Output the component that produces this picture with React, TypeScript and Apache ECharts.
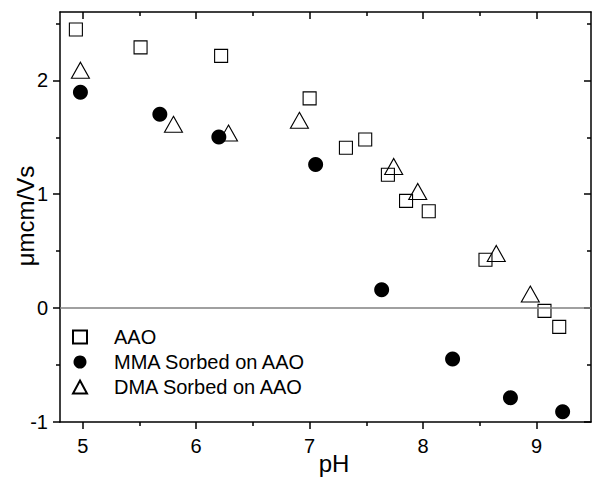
import React, { useEffect, useRef } from "react";
import * as echarts from "echarts";

const FONT = "'Liberation Sans', Arial, Helvetica, sans-serif";

const xMajorTicks = [5, 6, 7, 8, 9];
const xMinorTicks = [5.5, 6.5, 7.5, 8.5];
const yMajorTicks = [-1, 0, 1, 2];
const yMinorTicks = [-0.5, 0.5, 1.5, 2.5];

const X_MIN = 4.8;
const X_MAX = 9.48;
const Y_MIN = -1;
const Y_MAX = 2.6;

const seriesNames = ["AAO", "MMA Sorbed on AAO", "DMA Sorbed on AAO"];

const aaoPH = [4.94, 5.51, 6.22, 7.0, 7.32, 7.49, 7.69, 7.85, 8.05, 8.55, 9.07, 9.2];
const aaoMob = [2.447, 2.289, 2.215, 1.842, 1.408, 1.48, 1.171, 0.942, 0.85, 0.425, -0.024, -0.165];

const mmaPH = [4.98, 5.68, 6.2, 7.053, 7.635, 8.26, 8.77, 9.23];
const mmaMob = [1.895, 1.702, 1.502, 1.261, 0.161, -0.446, -0.787, -0.91];

const dmaPH = [4.98, 5.8, 6.285, 6.91, 7.741, 7.953, 8.645, 8.945];
const dmaMob = [2.089, 1.614, 1.537, 1.649, 1.244, 1.024, 0.48, 0.123];

const zip = (a: number[], b: number[]) => a.map((v, i) => [v, b[i]]);

export default function App() {
  const ref = useRef<HTMLDivElement>(null);
  useEffect(() => {
    document.body.style.margin = "0";
    if (!ref.current) return;
    const chart = echarts.init(ref.current, undefined, { renderer: "svg" });
    const axisLine = { show: true, onZero: false, lineStyle: { color: "#000", width: 1.5 } };
    const tickStyle = { color: "#000", width: 1.5 };
    const xBase = { type: "value", min: X_MIN, max: X_MAX, splitLine: { show: false } };
    const yBase = { type: "value", min: Y_MIN, max: Y_MAX, splitLine: { show: false } };
    const labelStyle = { color: "#000", fontSize: 20, fontFamily: FONT };
    chart.setOption({
      animation: false,
      backgroundColor: "#fff",
      grid: { left: 60, top: 12, right: 1, bottom: 55, containLabel: false },
      xAxis: [
        {
          ...xBase,
          position: "bottom",
          axisLine,
          axisTick: { show: true, inside: false, length: 7, customValues: xMajorTicks, lineStyle: tickStyle },
          axisLabel: { show: true, customValues: xMajorTicks, margin: 14, ...labelStyle },
        },
        {
          ...xBase,
          position: "bottom",
          axisLine: { show: false, onZero: false },
          axisTick: { show: true, inside: false, length: 4, customValues: xMinorTicks, lineStyle: tickStyle },
          axisLabel: { show: false },
        },
        {
          ...xBase,
          position: "top",
          axisLine,
          axisTick: { show: true, inside: true, length: 7, customValues: xMajorTicks, lineStyle: tickStyle },
          axisLabel: { show: false },
        },
        {
          ...xBase,
          position: "top",
          axisLine: { show: false, onZero: false },
          axisTick: { show: true, inside: true, length: 4, customValues: xMinorTicks, lineStyle: tickStyle },
          axisLabel: { show: false },
        },
      ],
      yAxis: [
        {
          ...yBase,
          position: "left",
          axisLine,
          axisTick: { show: true, inside: false, length: 7, customValues: yMajorTicks, lineStyle: tickStyle },
          axisLabel: { show: true, customValues: yMajorTicks, margin: 12, ...labelStyle },
        },
        {
          ...yBase,
          position: "left",
          axisLine: { show: false, onZero: false },
          axisTick: { show: true, inside: false, length: 4, customValues: yMinorTicks, lineStyle: tickStyle },
          axisLabel: { show: false },
        },
        {
          ...yBase,
          position: "right",
          axisLine,
          axisTick: { show: true, inside: true, length: 7, customValues: yMajorTicks, lineStyle: tickStyle },
          axisLabel: { show: false },
        },
        {
          ...yBase,
          position: "right",
          axisLine: { show: false, onZero: false },
          axisTick: { show: true, inside: true, length: 4, customValues: yMinorTicks, lineStyle: tickStyle },
          axisLabel: { show: false },
        },
      ],
      legend: {
        orient: "vertical",
        left: 67,
        top: 322,
        itemWidth: 14,
        itemHeight: 13,
        itemGap: 5,
        textStyle: { ...labelStyle, padding: [0, 0, 0, 22] },
        data: seriesNames,
      },
      graphic: [
        {
          type: "text",
          x: 334,
          y: 463,
          style: { text: "pH", align: "center", verticalAlign: "middle", font: `24px ${FONT}`, fill: "#000" },
        },
        {
          type: "text",
          x: 25.5,
          y: 216,
          rotation: Math.PI / 2,
          style: { text: "μmcm/Vs", align: "center", verticalAlign: "middle", font: `24px ${FONT}`, fill: "#000" },
        },
      ],
      series: [
        {
          name: seriesNames[0],
          type: "scatter",
          symbol: "rect",
          symbolSize: 13,
          itemStyle: { color: "rgba(255,255,255,0)", borderColor: "#000", borderWidth: 1.1, opacity: 1 },
          data: zip(aaoPH, aaoMob),
          z: 3,
          markLine: {
            silent: true,
            symbol: "none",
            label: { show: false },
            lineStyle: { color: "#808080", width: 1.5, type: "solid" },
            data: [{ yAxis: 0 }],
          },
        },
        {
          name: seriesNames[1],
          type: "scatter",
          symbol: "circle",
          symbolSize: 15,
          itemStyle: { color: "#000", borderColor: "#000", borderWidth: 0, opacity: 1 },
          data: zip(mmaPH, mmaMob),
          z: 4,
        },
        {
          name: seriesNames[2],
          type: "scatter",
          symbol: "triangle",
          symbolSize: [18, 16],
          itemStyle: { color: "rgba(255,255,255,0)", borderColor: "#000", borderWidth: 1.1, opacity: 1 },
          data: zip(dmaPH, dmaMob),
          z: 2,
        },
      ],
    });
    return () => chart.dispose();
  }, []);
  return <div ref={ref} style={{ width: 592, height: 477 }} />;
}
